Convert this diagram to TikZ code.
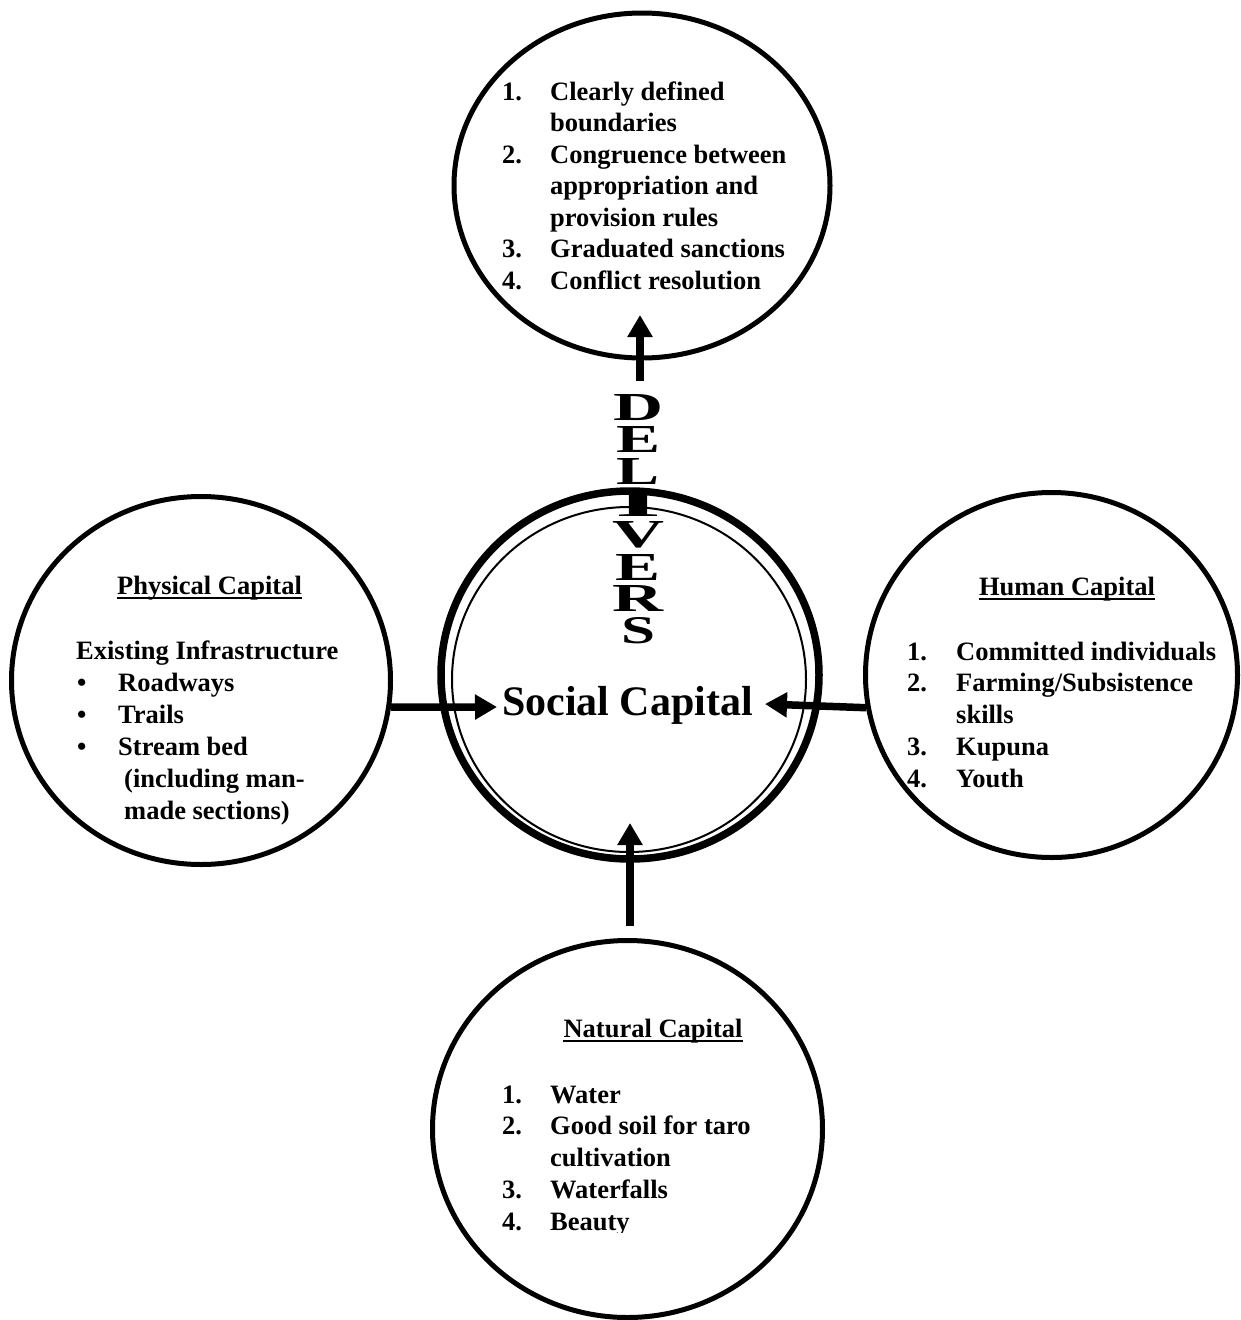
\documentclass[tikz,border=0pt]{standalone}
\usepackage{fontspec}
\setmainfont{Liberation Serif}
\usepackage{tikz}
\usetikzlibrary{shapes.geometric,arrows.meta}

\begin{document}
\begin{tikzpicture}[x=1pt,y=-1pt,
    capital/.style={draw,ellipse,line width=5pt,inner sep=0pt},
    entry/.style={anchor=base west,inner sep=0pt},
    heading/.style={anchor=base,inner sep=0pt},
    flow/.style={line width=7.5pt,-{Triangle[length=22pt,width=24pt]}}]
    \useasboundingbox (0,0) rectangle (1241,1320);
    \begin{scope}[font=\bfseries\fontsize{26.5}{31.5}\selectfont]

    % the four capitals round the centre
    \node [capital,minimum width=376pt,minimum height=345pt] (rules) at (642,185.5) {};
    \node [capital,minimum width=379pt,minimum height=368pt] (physical) at (201,680.5) {};
    \node [capital,minimum width=372pt,minimum height=365pt] (human) at (1051.5,675) {};
    \node [capital,minimum width=390pt,minimum height=377pt] (natural) at (627.5,1129) {};

    % social capital, double ring
    \node [capital,line width=7.5pt,minimum width=378pt,minimum height=368pt] (social) at (630,675) {};
    \node [capital,line width=2pt,minimum width=354pt,minimum height=345pt] (socialin) at (629,679.5) {};
    \node [heading,font=\bfseries\fontsize{42}{48}\selectfont] (socialtxt) at (627.5,715) {Social Capital};

    % design principles
    \foreach \txt [count=\i] in {Clearly defined,boundaries,Congruence between,appropriation and,provision rules,Graduated sanctions,Conflict resolution}{%
        \node [entry] (rule\i) at (550,{100+31.5*(\i-1)}) {\txt};}
    \foreach \num/\row in {1/1,2/3,3/6,4/7}{%
        \node [entry] (rulenum\num) at ([xshift=-48pt]rule\row.base west) {\num.};}

    % physical capital
    \node [heading] (physhead) at (209.5,594) {Physical Capital};
    \draw [line width=2pt] ([yshift=-4pt]physhead.base west) -- ([yshift=-4pt]physhead.base east);
    \node [entry] (physsub) at (76,659) {Existing Infrastructure};
    \foreach \txt [count=\i] in {Roadways,Trails,Stream bed}{%
        \node [entry] (phys\i) at (118,{659+32*\i}) {\txt};
        \node [entry] (physdot\i) at ([xshift=-41pt]phys\i.base west) {\textbullet};}
    \node [entry] (phys4) at (124,787) {(including man-};
    \node [entry] (phys5) at (124,819) {made sections)};

    % human capital
    \node [heading] (humanhead) at (1067,595) {Human Capital};
    \draw [line width=2pt] ([yshift=-4pt]humanhead.base west) -- ([yshift=-4pt]humanhead.base east);
    \foreach \txt [count=\i] in {Committed individuals,Farming/Subsistence,skills,Kupuna,Youth}{%
        \node [entry] (human\i) at (956,{660+31.8*(\i-1)}) {\txt};}
    \foreach \num/\row in {1/1,2/2,3/4,4/5}{%
        \node [entry] (humannum\num) at ([xshift=-49pt]human\row.base west) {\num.};}

    % natural capital
    \node [heading] (naturalhead) at (653,1037) {Natural Capital};
    \draw [line width=2pt] ([yshift=-4pt]naturalhead.base west) -- ([yshift=-4pt]naturalhead.base east);
    \begin{scope}
    \clip (0,0) rectangle (1241,1232);
    \foreach \txt [count=\i] in {Water,Good soil for taro,cultivation,Waterfalls,Beauty}{%
        \node [entry] (natural\i) at (550,{1103+31.8*(\i-1)}) {\txt};}
    \foreach \num/\row in {1/1,2/2,3/4,4/5}{%
        \node [entry] (naturalnum\num) at ([xshift=-48pt]natural\row.base west) {\num.};}
    \end{scope}

    % DELIVERS, one stretched letter per row
    \foreach \ch/\w [count=\i] in {D/50,E/44,L/43,I/46,V/52,E/45,R/51,S/34}{%
        \node [inner sep=0pt] (deliv\i) at (638,{408+31.8*(\i-1)}) {\resizebox{\w pt}{26pt}{\ch}};}

    % arrows
    \coordinate (physin) at (497,707);
    \coordinate (humanin) at (765,704);
    \coordinate (naturalin) at (630,823);
    \coordinate (rulesin) at (640,315);
    \draw [flow] (physical.-8) -- (physin);
    \draw [flow] (human.190) -- (humanin);
    \draw [flow,shorten <=12pt] (naturalin |- natural.north) -- (naturalin);
    \draw [flow,shorten <=14pt] (rulesin |- deliv1.north) -- (rulesin);
\end{scope}
\end{tikzpicture}
\end{document}
